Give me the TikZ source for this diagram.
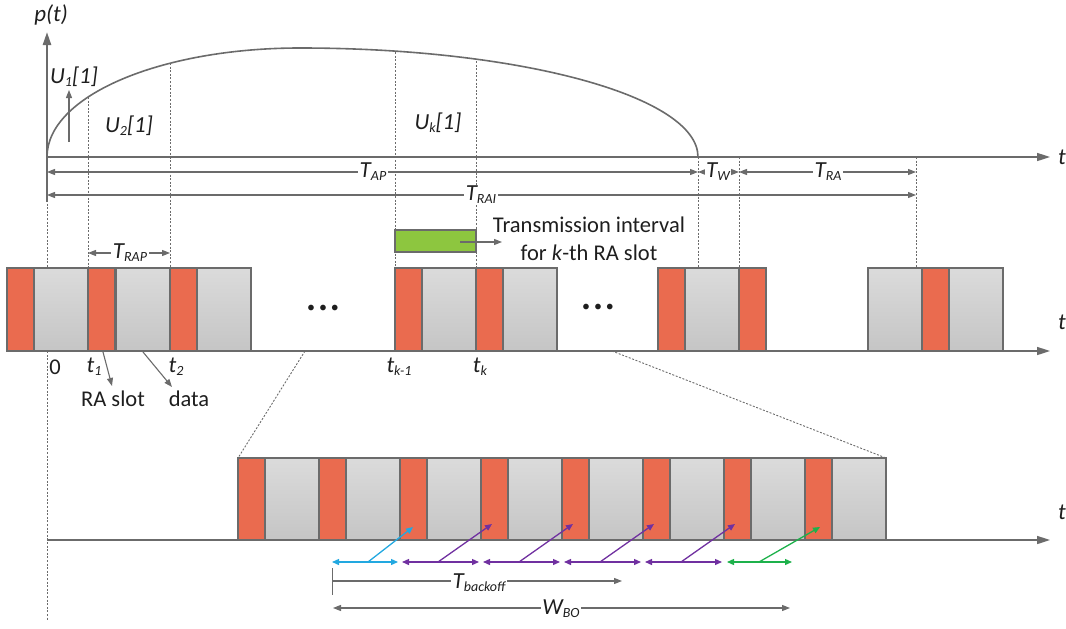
\documentclass[tikz,border=0pt]{standalone}
\usepackage{fontspec}
\setmainfont{Carlito}
\definecolor{tlLine}{HTML}{6B6B6B}
\definecolor{tlText}{HTML}{1E1E1E}
\definecolor{tlRed}{HTML}{EA6B4F}
\definecolor{tlGrayTop}{HTML}{DBDBDB}
\definecolor{tlGrayBot}{HTML}{C5C5C5}
\definecolor{tlGreen}{HTML}{8DC63F}
\definecolor{tlCyan}{HTML}{22A8E0}
\definecolor{tlPurple}{HTML}{7030A0}
\definecolor{tlGreenArr}{HTML}{1DB14B}
\usepackage{tikz}
\usetikzlibrary{calc,positioning,arrows.meta}

\newcommand{\lowsub}[1]{\raisebox{-3pt}{\fontsize{14}{14}\selectfont #1}}

\tikzset{
  redslot/.style={fill=tlRed, draw=tlLine, line width=1.3pt},
  dataslot/.style={top color=tlGrayTop, bottom color=tlGrayBot, draw=tlLine, line width=1.3pt},
  guide/.style={draw=tlLine, line width=0.9pt, dash pattern=on 2pt off 1.6pt},
  axis/.style={draw=tlLine, line width=1.6pt, -{Triangle[length=13pt,width=8pt]}},
  dimline/.style={draw=tlLine, line width=1.1pt, {Triangle[length=8pt,width=6pt]}-{Triangle[length=8pt,width=6pt]}},
  ptr/.style={draw=tlLine, line width=1.1pt, -{Triangle[length=8pt,width=6pt]}},
  boarr/.style={line width=1.3pt, {Triangle[length=7pt,width=6pt]}-{Triangle[length=7pt,width=6pt]}},
  bodiag/.style={line width=1.3pt, -{Triangle[length=7pt,width=6pt]}},
  mlbl/.style={font=\fontsize{23}{26}\selectfont\itshape, text=tlText, inner sep=1pt},
  dimlbl/.style={mlbl, fill=white, inner sep=1.5pt},
  txt/.style={font=\fontsize{22.5}{28}\selectfont, text=tlText, inner sep=1pt},
}

\begin{document}
\begin{tikzpicture}[x=1pt,y=-1pt]
  \useasboundingbox (0,0) rectangle (1066,629);

  % p(t) curve and axes
  \draw[guide] (47,200) -- (47,620);
  \draw[axis, line width=2.4pt] (47,202) -- (47,32);
  \draw[axis] (47,157) -- (1050,157);
  \node[mlbl] (pt) at (51,15) {p(t)};
  \node[mlbl] (tone) at (1062,157) {t};
  \draw[tlLine, line width=1.6pt] (47,157) .. controls (47,96) and (160,48) .. (300,48)
    .. controls (519,48) and (698,96) .. (698,157);

  \node[mlbl] (uone) at (74,77) {U\lowsub{1}[1]};
  \coordinate (uonebot) at (69,142);
  \coordinate (uonetop) at (69,90);
  \draw[ptr] (uonebot) -- (uonetop);
  \node[mlbl] (utwo) at (129,126) {U\lowsub{2}[1]};
  \node[mlbl] (uk) at (438,123) {U\lowsub{k}[1]};

  % guides
  \draw[guide] (88,97) -- (88,268);
  \draw[guide] (170,63) -- (170,268);
  \draw[guide] (395,52) -- (395,268);
  \draw[guide] (476,61) -- (476,268);
  \draw[guide] (698,157) -- (698,268);
  \draw[guide] (739,157) -- (739,268);
  \draw[guide] (916,157) -- (916,268);

  % durations
  \coordinate (s) at (47,172);
  \coordinate (ap) at (698,172);
  \coordinate (w) at (739,172);
  \coordinate (ra) at (916,172);
  \draw[dimline] (s) -- (ap);
  \draw[dimline] (ap) -- (w);
  \draw[dimline] (w) -- (ra);
  \node[dimlbl] (tap) at (373,172) {T\lowsub{AP}};
  \node[dimlbl] (tw) at (718,172) {T\lowsub{W}};
  \node[dimlbl] (tra) at (828,172) {T\lowsub{RA}};
  \coordinate (rais) at (47,195);
  \coordinate (raie) at (916,195);
  \draw[dimline] (rais) -- (raie);
  \node[dimlbl] (trai) at (481,195) {T\lowsub{RAI}};
  \coordinate (raps) at (88,253);
  \coordinate (rape) at (170,253);
  \draw[dimline] (raps) -- (rape);
  \node[dimlbl] (trap) at (130,253) {T\lowsub{RAP}};

  % transmission interval
  \draw[fill=tlGreen, draw=tlLine, line width=1.1pt] (395,230) rectangle (476,252);
  \node[txt, align=center] (txint) at (589,239) {Transmission interval\\for \textit{k}-th RA slot};
  \coordinate (gmid) at (460,242);
  \draw[ptr] (gmid) -- (502,242);

  % frame row
  \draw[axis] (7,351) -- (1050,351);
  \node[mlbl] (tmid) at (1062,322) {t};
  \foreach \x in {34,116,197,422,503,685,868,949}
    \draw[dataslot] (\x,268) rectangle ++(54,83);
  \foreach \x in {7,88,170,395,476,658,739,922}
    \draw[redslot] (\x,268) rectangle ++(27,83);
  \node[txt] (dotsa) at (323,309) {\fontsize{16}{16}\selectfont •\hspace{4pt}•\hspace{4pt}•};
  \node[txt] (dotsb) at (598,308) {\fontsize{16}{16}\selectfont •\hspace{4pt}•\hspace{4pt}•};

  \node[txt] (zero) at (55,367) {0};
  \node[mlbl] (tsone) at (94,367) {t\lowsub{1}};
  \node[mlbl] (tstwo) at (176,367) {t\lowsub{2}};
  \node[mlbl] (tskm) at (399,367) {t\lowsub{k-1}};
  \node[mlbl] (tsk) at (480,367) {t\lowsub{k}};
  \node[txt] (raslot) at (113,399) {RA slot};
  \node[txt] (data) at (189,399) {data};
  \coordinate (raptr) at (103,352);
  \coordinate (dataptr) at (143,352);
  \draw[ptr] (raptr) -- (112,386);
  \draw[ptr] (dataptr) -- (172,387);

  % zoom
  \draw[guide] (305,351) -- (238,458);
  \draw[guide] (612,351) -- (886,458);

  % backoff row
  \draw[axis] (47,540) -- (1050,540);
  \node[mlbl] (tbot) at (1062,512) {t};
  \foreach \k in {0,...,7} {
    \draw[dataslot] ({265+81*\k},458) rectangle ++(54,82);
    \draw[redslot] ({238+81*\k},458) rectangle ++(27,82);
  }

  \draw[boarr, tlCyan] (332,562) -- (398,562);
  \draw[bodiag, tlCyan] (368,562) -- (413,527);
  \foreach \a in {402,483,564,645} {
    \draw[boarr, tlPurple] (\a,562) -- ({\a+77},562);
    \draw[bodiag, tlPurple] ({\a+36},562) -- ({\a+90},524);
  }
  \draw[boarr, tlGreenArr] (727,562) -- (792,562);
  \draw[bodiag, tlGreenArr] (759,562) -- (820,527);

  \coordinate (bos) at (332,581);
  \coordinate (boe) at (622,581);
  \draw[draw=tlLine, line width=1.1pt, {Bar[width=27pt]}-{Triangle[length=8pt,width=6pt]}] (bos) -- (boe);
  \node[dimlbl] (tbo) at (479,583) {T\lowsub{backoff}};
  \coordinate (wbs) at (333,608);
  \coordinate (wbe) at (790,608);
  \draw[dimline] (wbs) -- (wbe);
  \node[dimlbl] (wbo) at (561,609) {W\lowsub{BO}};
\end{tikzpicture}
\end{document}
